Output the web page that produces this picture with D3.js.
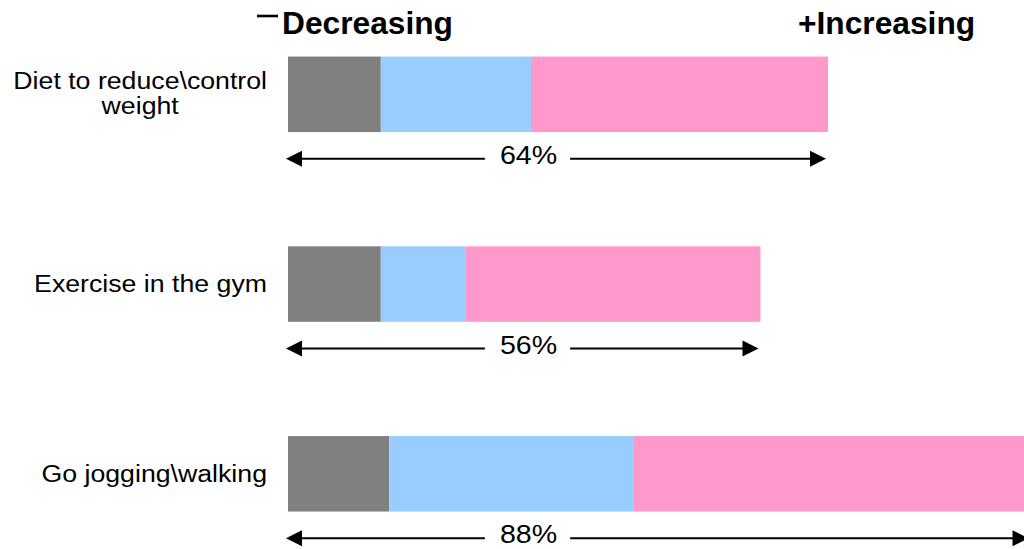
<!DOCTYPE html>
<html>
<head>
<meta charset="utf-8">
<script src="https://cdn.jsdelivr.net/npm/d3@7/dist/d3.min.js"></script>
<style>
  html, body { margin: 0; padding: 0; background: #fff; }
  svg { display: block; }
  text { font-family: "Liberation Sans", Arial, sans-serif; fill: #000; }
</style>
</head>
<body>
<svg id="chart" width="1024" height="549"></svg>
<script>
// ---- data ----
const categories = ["Diet to reduce\\control weight", "Exercise in the gym", "Go jogging\\walking"];
const categoryLines = [["Diet to reduce\\control", "weight"], ["Exercise in the gym"], ["Go jogging\\walking"]];
const decreasing = [11, 11, 12];
const unchanged = [17.8, 10, 29];
const increasing = [35.2, 35, 47];
const totalLabels = ["64%", "56%", "88%"];
const headerLeft = "Decreasing";
const headerRight = "+Increasing";
const seriesColors = ["#808080", "#99CCFF", "#FF99CC"];

// ---- layout ----
const svg = d3.select("#chart");

const x = d3.scaleLinear().domain([0, 64]).range([288, 828]);
const yc = d3.scalePoint().domain(categories).range([94.3, 473.8]);
const barH = 75.5;

// text drawn with a slight horizontal stretch (as in the reference)
function stretchedText(px, py, str, size, sx, anchor, weight) {
  const t = svg.append("text")
    .attr("transform", `translate(${px},${py}) scale(${sx},1)`)
    .attr("text-anchor", anchor || "start")
    .style("font-size", size + "px")
    .style("font-weight", weight || "normal")
    .text(str);
  return { node: t, width: t.node().getComputedTextLength() * sx };
}

const series = [decreasing, unchanged, increasing];
const rows = categories.map((c, i) => {
  let acc = 0;
  const segs = series.map((s, k) => {
    const seg = { x0: acc, x1: acc + s[i], color: seriesColors[k] };
    acc += s[i];
    return seg;
  });
  return { cat: c, i, segs, total: acc };
});

// bars
rows.forEach(r => {
  svg.append("g").selectAll("rect").data(r.segs).enter().append("rect")
    .attr("x", d => x(d.x0))
    .attr("width", d => x(d.x1) - x(d.x0))
    .attr("y", yc(r.cat) - barH / 2)
    .attr("height", barH)
    .attr("fill", d => d.color);
});

// category labels
const labSize = 24.5, labSx = 1.09;
rows.forEach(r => {
  const lines = categoryLines[r.i];
  const c = yc(r.cat);
  const first = c + 7.7 - (lines.length - 1) * 13.5;
  const t0 = stretchedText(267, first, lines[0], labSize, labSx, "end");
  for (let k = 1; k < lines.length; k++) {
    stretchedText(267 - t0.width / 2, first + k * 25.5, lines[k], labSize, labSx, "middle");
  }
});

// arrows with total labels
const labelX = 528.5;
rows.forEach(r => {
  const ay = yc(r.cat) + 64.5;
  const xl = x(0) - 2, xr = x(r.total) - 2;
  const t = stretchedText(labelX, ay + 5, totalLabels[r.i], 26, 1.1, "middle");
  const tw = t.width;
  const head = 16, hh = 8;
  svg.append("line")
    .attr("x1", xl + head - 1).attr("x2", labelX - tw / 2 - 15)
    .attr("y1", ay).attr("y2", ay)
    .attr("stroke", "#000").attr("stroke-width", 2);
  svg.append("line")
    .attr("x1", labelX + tw / 2 + 13).attr("x2", xr - head + 1)
    .attr("y1", ay).attr("y2", ay)
    .attr("stroke", "#000").attr("stroke-width", 2);
  svg.append("path")
    .attr("d", `M${xl},${ay} L${xl + head},${ay - hh} L${xl + head},${ay + hh} Z`)
    .attr("fill", "#000");
  svg.append("path")
    .attr("d", `M${xr},${ay} L${xr - head},${ay - hh} L${xr - head},${ay + hh} Z`)
    .attr("fill", "#000");
});

// headers
svg.append("line")
  .attr("x1", 257).attr("x2", 278)
  .attr("y1", 16).attr("y2", 16)
  .attr("stroke", "#000").attr("stroke-width", 2.6);
stretchedText(282, 33.5, headerLeft, 30.5, 1.04, "start", "bold");
stretchedText(798, 33.5, headerRight, 30.5, 1.04, "start", "bold");
</script>
</body>
</html>
